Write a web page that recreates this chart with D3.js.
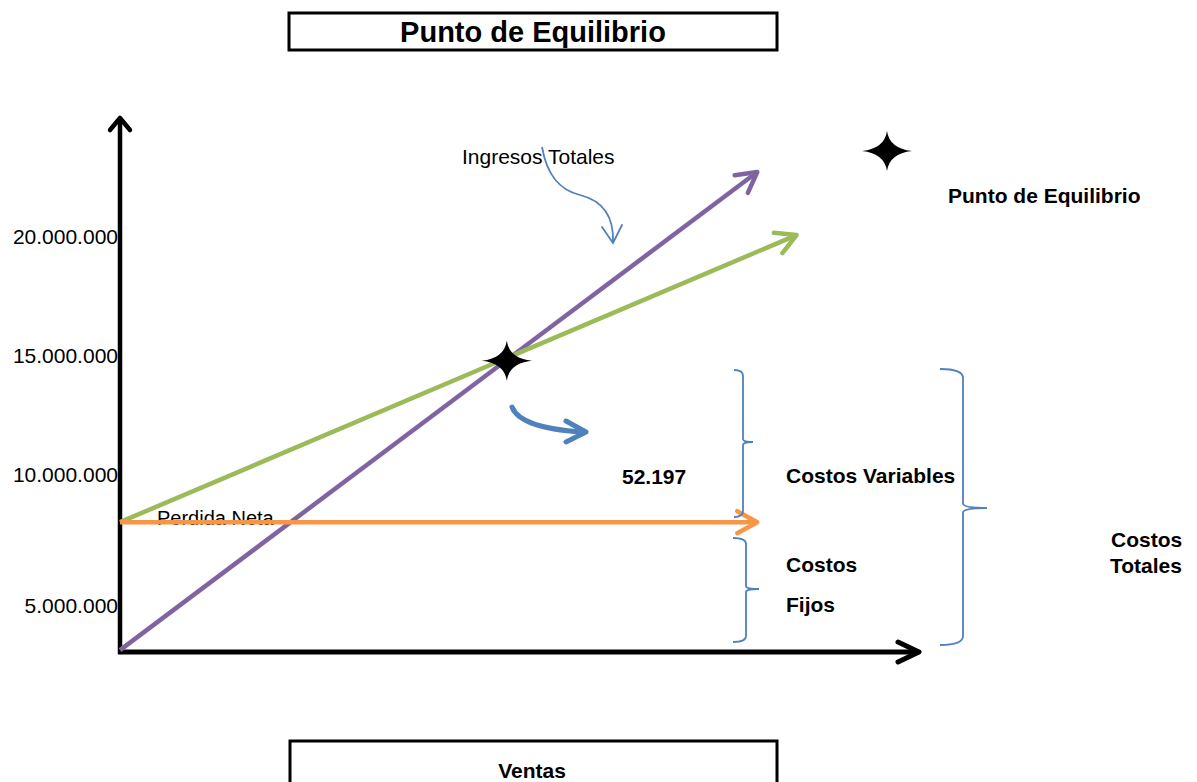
<!DOCTYPE html>
<html>
<head>
<meta charset="utf-8">
<script src="https://cdn.jsdelivr.net/npm/d3@7"></script>
<style>
  body { margin: 0; background: #fff; }
  svg text { font-family: "Liberation Sans", Arial, sans-serif; fill: #000; }
</style>
</head>
<body>
<svg id="viz"></svg>
<script>
// ventas (unidades) y pesos
const yTicks = [5000000, 10000000, 15000000, 20000000];
const ingresos = [{ q: 0, v: 2600000 }, { q: 86000, v: 22730000 }];
const costosTotales = [{ q: 0, v: 8200000 }, { q: 91300, v: 20080000 }];
const costosFijos = [{ q: 0, v: 8200000 }, { q: 86000, v: 8200000 }];
const equilibrio = { q: 52197, v: 14800000 };
const etiquetaEquilibrio = "52.197";

const width = 1197, height = 782;
const purple = "#8064A2", green = "#9BBB59", orange = "#F79646", blue = "#4F81BD";

const svg = d3.select("#viz").attr("width", width).attr("height", height);

const x = d3.scaleLinear().domain([0, 100000]).range([120, 861]);
const y = d3.scaleLinear().domain([2500000, 5000000, 10000000, 20000000]).range([652, 606, 475, 237]);

const fmt = d3.formatLocale({ decimal: ",", thousands: ".", grouping: [3], currency: ["$", ""] }).format(",");

// arrow heads
const defs = svg.append("defs");
function marker(id, color, back, half, sw) {
    defs.append("marker").attr("id", id)
        .attr("markerUnits", "userSpaceOnUse")
        .attr("viewBox", `${-back - 6} ${-half - 6} ${back + 12} ${half * 2 + 12}`)
        .attr("markerWidth", back + 12).attr("markerHeight", half * 2 + 12)
        .attr("refX", 0).attr("refY", 0).attr("orient", "auto")
        .append("path").attr("d", `M${-back},${-half} L0,0 L${-back},${half}`)
        .attr("fill", "none").attr("stroke", color).attr("stroke-width", sw)
        .attr("stroke-linecap", "round").attr("stroke-linejoin", "round");
}
marker("ahPurple", purple, 20, 11, 4.5);
marker("ahGreen", green, 20, 11, 4.5);
marker("ahOrange", orange, 20, 11, 4.5);
marker("ahAxisX", "#000", 21, 10, 5);
marker("ahAxisY", "#000", 12, 10, 4.5);

// title boxes
svg.append("rect").attr("x", 289).attr("y", 13).attr("width", 488).attr("height", 37)
    .attr("fill", "none").attr("stroke", "#000").attr("stroke-width", 3);
svg.append("text").attr("x", 533).attr("y", 42).attr("text-anchor", "middle")
    .style("font-size", "29px").style("font-weight", "bold").text("Punto de Equilibrio");
svg.append("rect").attr("x", 290).attr("y", 741).attr("width", 487).attr("height", 60)
    .attr("fill", "none").attr("stroke", "#000").attr("stroke-width", 3);
svg.append("text").attr("x", 532).attr("y", 778).attr("text-anchor", "middle")
    .style("font-size", "21px").style("font-weight", "bold").text("Ventas");

// y tick labels
const yAxis = svg.append("g").attr("transform", "translate(120,0)")
    .call(d3.axisLeft(y).tickValues(yTicks).tickSize(0).tickPadding(2).tickFormat(fmt));
yAxis.select(".domain").remove();
yAxis.selectAll("text").style("font-size", "21px").style("font-family", "'Liberation Sans', Arial, sans-serif").attr("fill", "#000");

// axes
svg.append("line").attr("x1", x(0)).attr("y1", y(2500000) + 2).attr("x2", x(0)).attr("y2", 118)
    .attr("stroke", "#000").attr("stroke-width", 4.5).attr("marker-end", "url(#ahAxisY)");
svg.append("line").attr("x1", x(0) - 2).attr("y1", y(2500000)).attr("x2", 919).attr("y2", y(2500000))
    .attr("stroke", "#000").attr("stroke-width", 5).attr("marker-end", "url(#ahAxisX)");

// text behind the lines
svg.append("text").attr("x", 157).attr("y", 525).style("font-size", "20px").text("Perdida Neta");

const line = d3.line().x(d => x(d.q)).y(d => y(d.v));
svg.append("path").datum(ingresos).attr("d", line).attr("fill", "none")
    .attr("stroke", purple).attr("stroke-width", 4.5).attr("marker-end", "url(#ahPurple)");
svg.append("path").datum(costosTotales).attr("d", line).attr("fill", "none")
    .attr("stroke", green).attr("stroke-width", 4.5).attr("marker-end", "url(#ahGreen)");
svg.append("path").datum(costosFijos).attr("d", line).attr("fill", "none")
    .attr("stroke", orange).attr("stroke-width", 4.5).attr("marker-end", "url(#ahOrange)");

// stars
const star = (rx, ry, i) => `M${rx},0 Q${i},${i} 0,${ry} Q${-i},${i} ${-rx},0 Q${-i},${-i} 0,${-ry} Q${i},${-i} ${rx},0 Z`;
svg.append("path").attr("d", star(25, 20, 2.5))
    .attr("transform", `translate(${x(equilibrio.q)},${y(equilibrio.v)})`).attr("fill", "#000");
svg.append("path").attr("d", star(25, 20, 2.5)).attr("transform", "translate(887,151)").attr("fill", "#000");

// curved arrows
svg.append("path").attr("d", "M542,147 C547,176 560,190 580,195 C600,200 614,214 613,242")
    .attr("fill", "none").attr("stroke", blue).attr("stroke-width", 1.8);
svg.append("path").attr("d", "M602,227 L613,243 L622,225")
    .attr("fill", "none").attr("stroke", blue).attr("stroke-width", 1.8).attr("stroke-linecap", "round");
svg.append("path").attr("d", "M512,407 Q520,428 582,432")
    .attr("fill", "none").attr("stroke", blue).attr("stroke-width", 5).attr("stroke-linecap", "round");
svg.append("path").attr("d", "M566,421 L586,432 L566,442")
    .attr("fill", "none").attr("stroke", blue).attr("stroke-width", 5)
    .attr("stroke-linecap", "round").attr("stroke-linejoin", "round");

// braces
function brace(x0, xv, xt, y0, ym, y1, r) {
    return `M${x0},${y0} Q${xv},${y0} ${xv},${y0 + r} L${xv},${ym - r / 2} Q${xv},${ym} ${xt},${ym} ` +
        `M${xt},${ym} Q${xv},${ym} ${xv},${ym + r / 2} L${xv},${y1 - r} Q${xv},${y1} ${x0},${y1}`;
}
[
    [734, 743, 753, 370, 442, 517, 6],
    [733, 746, 759, 538, 589, 642, 6],
    [940, 963, 987, 369, 508, 645, 9]
].forEach(b => {
    svg.append("path").attr("d", brace(...b)).attr("fill", "none")
        .attr("stroke", blue).attr("stroke-width", 1.8);
});

// labels
const labels = [
    { t: "Ingresos Totales", x: 462, y: 157, b: false },
    { t: "Punto de Equilibrio", x: 948, y: 196, b: true },
    { t: etiquetaEquilibrio, x: 622, y: 477, b: true },
    { t: "Costos Variables", x: 786, y: 476, b: true },
    { t: "Costos", x: 786, y: 565, b: true },
    { t: "Fijos", x: 786, y: 605, b: true },
    { t: "Costos", x: 1111, y: 540, b: true },
    { t: "Totales", x: 1110, y: 566, b: true }
];
svg.selectAll("text.lbl").data(labels).enter().append("text").attr("class", "lbl")
    .attr("x", d => d.x).attr("y", d => d.y).attr("dy", "0.35em")
    .style("font-size", "21px").style("font-weight", d => d.b ? "bold" : "normal")
    .text(d => d.t);
</script>
</body>
</html>
